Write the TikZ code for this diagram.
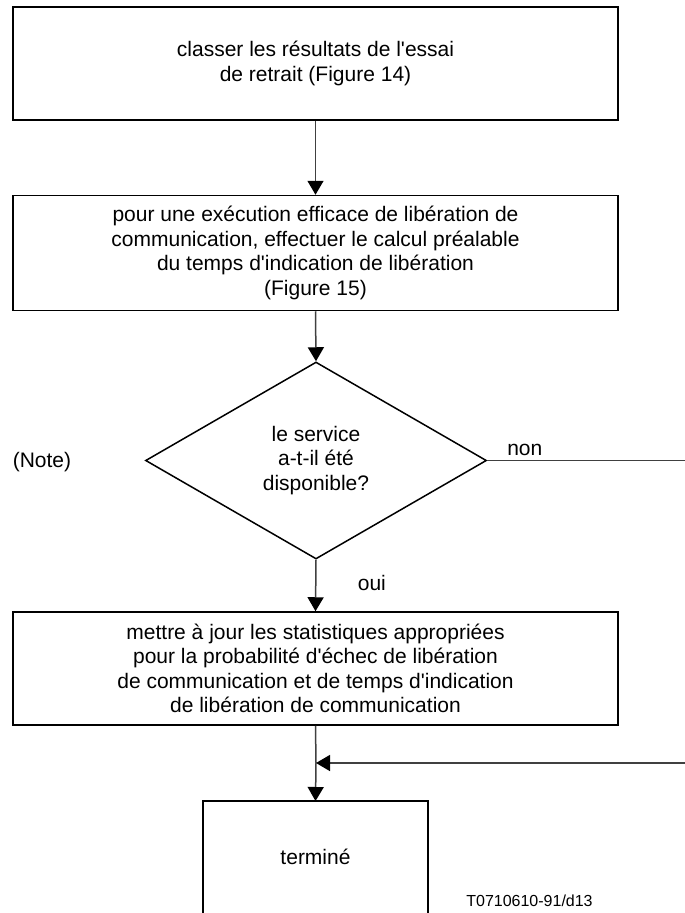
\documentclass[tikz,border=0pt]{standalone}
\usepackage{fontspec}
\setmainfont{Liberation Sans}
\usetikzlibrary{arrows.meta,shapes.geometric}

% straight apostrophe
\newcommand{\ap}{\textquotesingle}

\tikzset{
  flowtext/.style={font=\fontsize{21}{24.5}\selectfont, align=center},
  procbox/.style={flowtext, draw=black, line width=1.5pt, rectangle,
    minimum width=605pt, inner sep=0pt},
  decision/.style={flowtext, draw=black, line width=1.5pt, diamond,
    aspect=1.73, minimum width=341pt, minimum height=197pt, inner sep=0pt},
  flow/.style={draw=black!75, line width=1.5pt},
  flowarrow/.style={flow, -{Triangle[length=14pt,width=16pt,fill=black,color=black]}},
  edgelabel/.style={font=\fontsize{21}{24}\selectfont},
  reflabel/.style={font=\fontsize{16}{19}\selectfont}
}

\begin{document}
\begin{tikzpicture}[x=1pt,y=-1pt]
  \useasboundingbox (0,0) rectangle (685,913);
  \clip (0,0) rectangle (685,913);

  % process steps
  \node[procbox, minimum height=113pt] (classer) at (315.5,63.5)
    {classer les résultats de l\ap essai\\de retrait (Figure 14)};
  \node[procbox, minimum height=115pt] (calcul) at (315.5,253)
    {pour une exécution efficace de libération de\\communication, effectuer le calcul préalable\\du temps d\ap indication de libération\\(Figure 15)};
  \node[decision] (service) at (316,460.5)
    {le service\\a-t-il été\\disponible?};
  \node[procbox, minimum height=113pt] (stats) at (315.5,668.5)
    {mettre à jour les statistiques appropriées\\pour la probabilité d\ap échec de libération\\de communication et de temps d\ap indication\\de libération de communication};

  % final step: open at the bottom edge
  \node[flowtext, rectangle, minimum width=225pt, minimum height=112pt,
    inner sep=0pt, anchor=north] (fin) at (315.5,801) {terminé};
  \draw[line width=1.5pt] (fin.south west) -- (fin.north west)
    -- (fin.north east) -- (fin.south east);

  % side texts
  \node[edgelabel] (note) at (42,462) {(Note)};
  \node[reflabel] (ref) at (529.5,901) {T0710610-91/d13};

  % off-page ends of the "non" branch and the merge point
  \coordinate (nonout) at (685,460.5);
  \coordinate (retour) at (685,763);
  \coordinate (merge) at (316,763);

  % connectors
  \draw[flowarrow] (classer.south) -- (calcul.north);
  \draw[flowarrow] (calcul.south) -- (service.north);
  \draw[flowarrow] (service.south) -- (stats.north)
    node[edgelabel, pos=0.45, right=38pt] {oui};
  \draw[flow] (service.east) -- (nonout)
    node[edgelabel, pos=0.19, above=1pt] {non};
  \draw[flow] (stats.south) -- (merge);
  \draw[flowarrow] (retour) -- (merge);
  \draw[flowarrow] (merge) -- (fin.north);
\end{tikzpicture}
\end{document}
